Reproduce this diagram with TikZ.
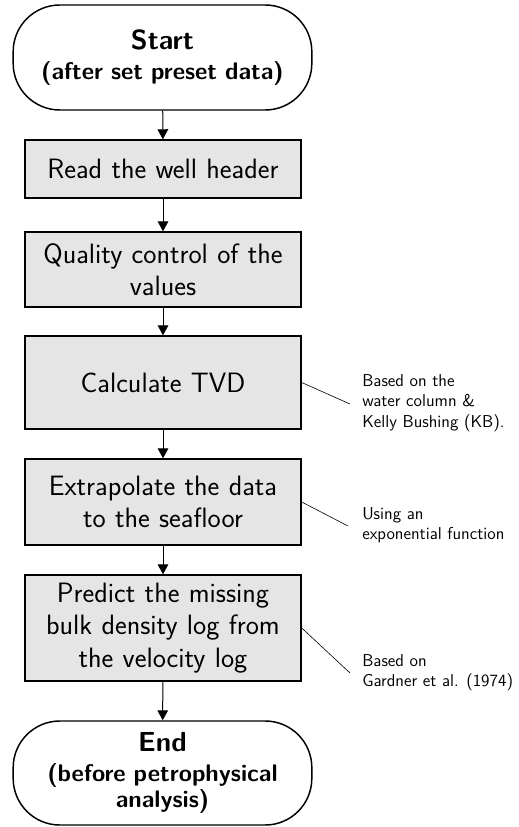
\documentclass[tikz,border=0pt]{standalone}
\usepackage{fontspec}
\usetikzlibrary{arrows.meta,positioning}
\begin{document}
\begin{tikzpicture}[x=0.75pt,y=-0.75pt,
  font=\sffamily,
  terminal/.style={draw=black, line width=1.1pt, fill=white, rounded corners=35pt,
    minimum width=224pt, text width=215pt, align=center, inner sep=0pt,
    font=\sffamily\bfseries\fontsize{18}{19.5}\selectfont},
  process/.style={draw=black, line width=1.1pt, fill=black!10,
    minimum width=207pt, text width=205pt, align=center, inner sep=0pt,
    font=\sffamily\fontsize{21}{24.4}\selectfont},
  flow/.style={line width=0.75pt, -{Triangle[length=7.5pt,width=8pt]}},
  noteline/.style={line width=0.45pt},
  note/.style={anchor=west, align=left, inner sep=0pt,
    font=\sffamily\fontsize{12.9}{15.2}\selectfont}
]
\useasboundingbox (0,0) rectangle (518,827);

% main flow
\node[terminal, minimum height=78.75pt] (start) at (162.5,57.5)
  {{\fontsize{20.7}{19.5}\selectfont Start}\\[3.5pt](after set preset data)};
\node[process, minimum height=43.5pt] (read) at (163,169) {Read the well header};
\node[process, minimum height=56.25pt] (qc) at (163,269.5) {Quality control of the\\values};
\node[process, minimum height=69.75pt] (tvd) at (163,382.5) {Calculate TVD};
\node[process, minimum height=64.5pt] (extra) at (163,502) {Extrapolate the data\\to the seafloor};
\node[process, minimum height=79.5pt] (pred) at (163,628) {Predict the missing\\bulk density log from\\the velocity log};
\node[terminal, minimum height=78pt] (end) at (162.5,773)
  {{\fontsize{20.7}{19.5}\selectfont End}\\[3pt](before petrophysical\\analysis)};

\draw[flow] (start) -- (read);
\draw[flow] (read) -- (qc);
\draw[flow] (qc) -- (tvd);
\draw[flow] (tvd) -- (extra);
\draw[flow] (extra) -- (pred);
\draw[flow] (pred) -- (end);

% side notes
\coordinate (c1) at (350,404);
\coordinate (c2) at (348,526);
\coordinate (c3) at (350,673);
\node[note] (n1) at (362,403) {Based on the\\water column \&\\Kelly Bushing (KB).};
\node[note] (n2) at (362,525) {Using an\\exponential function};
\node[note] (n3) at (362,672.5) {Based on\\Gardner et al. (1974)};
\draw[noteline] (tvd.east) -- (c1);
\draw[noteline] (extra.east) -- (c2);
\draw[noteline] (pred.east) -- (c3);
\end{tikzpicture}
\end{document}
